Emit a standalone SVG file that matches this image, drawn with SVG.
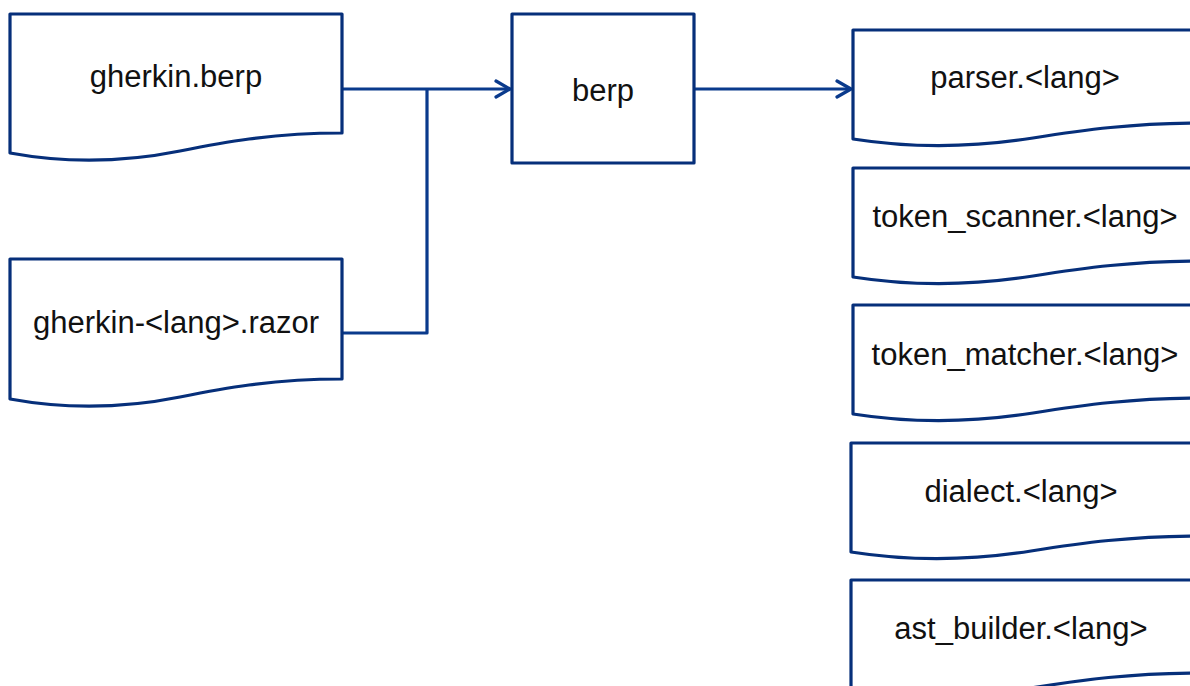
<svg xmlns="http://www.w3.org/2000/svg" width="1190" height="686" viewBox="0 0 1190 686">
<defs>
<style>
.shape{fill:#ffffff;stroke:#062f7a;stroke-width:3.2;stroke-linejoin:round}
.conn{fill:none;stroke:#0a3a8c;stroke-width:3.2;stroke-linejoin:round}
.lbl{font-family:"Liberation Sans",Arial,sans-serif;font-size:31px;fill:#111111;text-anchor:middle}
</style>
<marker id="arr" markerUnits="userSpaceOnUse" markerWidth="20" markerHeight="20" viewBox="-16 -10 20 20" refX="0" refY="0" orient="auto">
<path d="M-14,-8 L0,0 L-14,8" fill="none" stroke="#0a3a8c" stroke-width="3.2" stroke-linecap="round" stroke-linejoin="round"/>
</marker>
<path id="rdoc" d="M0,109 V0 H350 V93 C 280,93 230,100 180,108 C 130,116 70,120 0,109 Z"/>
</defs>
<rect width="1190" height="686" fill="#ffffff"/>
<g id="connectors">
<path class="conn" d="M342,89 H510" marker-end="url(#arr)"/>
<path class="conn" d="M342,333 H427 V89"/>
<path class="conn" d="M694,89 H851" marker-end="url(#arr)"/>
</g>
<g id="gherkin-berp">
<path class="shape" d="M10,153 V14 H342 V133 C 270,133 220,143 180,151 C 130,161 70,164 10,153 Z"/>
<text class="lbl" x="176" y="87">gherkin.berp</text>
</g>
<g id="gherkin-razor">
<path class="shape" d="M10,399 V259 H342 V379 C 270,379 220,389 180,397 C 130,407 70,410 10,399 Z"/>
<text class="lbl" x="176" y="333">gherkin-&lt;lang&gt;.razor</text>
</g>
<g id="berp">
<rect class="shape" x="512" y="14" width="182" height="149"/>
<text class="lbl" x="603" y="101">berp</text>
</g>
<g id="parser">
<use href="#rdoc" class="shape" transform="translate(853,30)"/>
<text class="lbl" x="1025" y="88">parser.&lt;lang&gt;</text>
</g>
<g id="token-scanner">
<use href="#rdoc" class="shape" transform="translate(853,168)"/>
<text class="lbl" x="1025" y="227">token_scanner.&lt;lang&gt;</text>
</g>
<g id="token-matcher">
<use href="#rdoc" class="shape" transform="translate(853,305)"/>
<text class="lbl" x="1025" y="365">token_matcher.&lt;lang&gt;</text>
</g>
<g id="dialect">
<use href="#rdoc" class="shape" transform="translate(851,443)"/>
<text class="lbl" x="1021" y="502">dialect.&lt;lang&gt;</text>
</g>
<g id="ast-builder">
<use href="#rdoc" class="shape" transform="translate(851,580)"/>
<text class="lbl" x="1021" y="639">ast_builder.&lt;lang&gt;</text>
</g>
</svg>
